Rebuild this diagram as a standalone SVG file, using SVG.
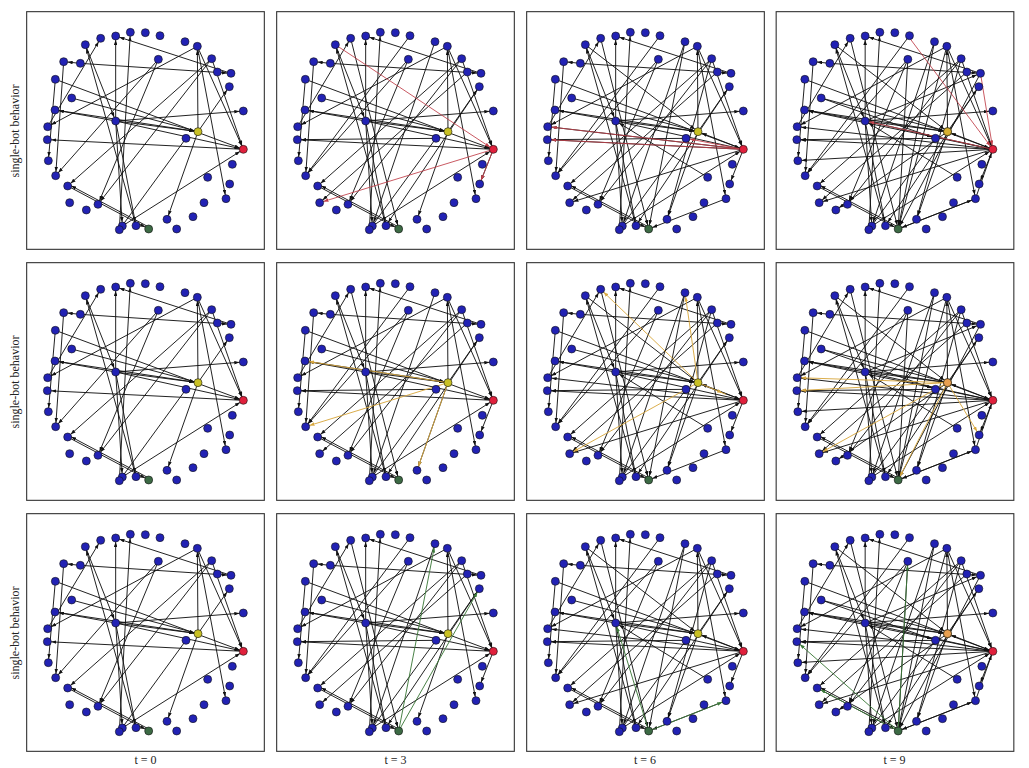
<svg xmlns="http://www.w3.org/2000/svg" xmlns:xlink="http://www.w3.org/1999/xlink" width="1029" height="768" viewBox="0 0 1029 768">
<style>
.box{fill:#fff;stroke:#333;stroke-width:3.3}
.ek line{stroke:#111;stroke-width:2.8;marker-end:url(#ak)}
.er line{stroke:#c0404a;stroke-width:2.6;marker-end:url(#ar)}
.eo line{stroke:#d8a840;stroke-width:2.8;marker-end:url(#ao)}
.eg line{stroke:#3d7a3a;stroke-width:2.8;marker-end:url(#ag)}
circle{stroke:#111;stroke-width:1.8}
.nb circle{fill:#2222b4}
.nr circle{fill:#e0203c}
.ny circle{fill:#c8c024}
.ng circle{fill:#3c6a44}
.lbl{font-family:"Liberation Serif","Times New Roman",serif;font-size:12px;fill:#222}
</style>
<defs>
<marker id="ak" markerUnits="userSpaceOnUse" viewBox="0 0 15 11" markerWidth="15" markerHeight="11" refX="27" refY="5.5" orient="auto"><path d="M0,0 L15,5.5 L0,11 z" fill="#111"/></marker>
<marker id="ar" markerUnits="userSpaceOnUse" viewBox="0 0 15 11" markerWidth="15" markerHeight="11" refX="27" refY="5.5" orient="auto"><path d="M0,0 L15,5.5 L0,11 z" fill="#c0404a"/></marker>
<marker id="ao" markerUnits="userSpaceOnUse" viewBox="0 0 15 11" markerWidth="15" markerHeight="11" refX="27" refY="5.5" orient="auto"><path d="M0,0 L15,5.5 L0,11 z" fill="#d8a840"/></marker>
<marker id="ag" markerUnits="userSpaceOnUse" viewBox="0 0 15 11" markerWidth="15" markerHeight="11" refX="27" refY="5.5" orient="auto"><path d="M0,0 L15,5.5 L0,11 z" fill="#3d7a3a"/></marker>

<g id="E0" class="ek">
<line x1="272" y1="333" x2="272" y2="78"/>
<line x1="272" y1="333" x2="292" y2="648"/>
<line x1="272" y1="333" x2="333" y2="647"/>
<line x1="272" y1="333" x2="519" y2="365"/>
<line x1="272" y1="333" x2="655" y2="418"/>
<line x1="272" y1="333" x2="655" y2="303"/>
<line x1="272" y1="333" x2="90" y2="300"/>
<line x1="283" y1="659" x2="316" y2="67"/>
<line x1="618" y1="190" x2="272" y2="78"/>
<line x1="68" y1="350" x2="227" y2="85"/>
<line x1="333" y1="647" x2="181" y2="104"/>
<line x1="166" y1="160" x2="116" y2="155"/>
<line x1="166" y1="160" x2="618" y2="190"/>
<line x1="116" y1="155" x2="92" y2="497"/>
<line x1="91" y1="208" x2="70" y2="452"/>
<line x1="91" y1="208" x2="655" y2="418"/>
<line x1="140" y1="264" x2="519" y2="365"/>
<line x1="655" y1="418" x2="67" y2="389"/>
<line x1="517" y1="109" x2="68" y2="350"/>
<line x1="560" y1="146" x2="219" y2="583"/>
<line x1="560" y1="146" x2="128" y2="528"/>
<line x1="400" y1="148" x2="92" y2="497"/>
<line x1="519" y1="365" x2="517" y2="109"/>
<line x1="517" y1="109" x2="603" y2="566"/>
<line x1="560" y1="146" x2="655" y2="418"/>
<line x1="517" y1="109" x2="655" y2="418"/>
<line x1="519" y1="365" x2="613" y2="230"/>
<line x1="519" y1="365" x2="426" y2="628"/>
<line x1="483" y1="385" x2="283" y2="659"/>
<line x1="292" y1="648" x2="655" y2="418"/>
<line x1="128" y1="528" x2="371" y2="657"/>
<line x1="371" y1="651" x2="128" y2="522"/>
<line x1="90" y1="300" x2="519" y2="365"/>
<line x1="400" y1="148" x2="219" y2="583"/>
<line x1="181" y1="104" x2="272" y2="333"/>
</g>
<g id="E3" class="ek">
<line x1="480" y1="95" x2="292" y2="648"/>
<line x1="655" y1="418" x2="614" y2="522"/>
<line x1="577" y1="186" x2="134" y2="578"/>
<line x1="483" y1="385" x2="67" y2="389"/>
<line x1="613" y1="230" x2="333" y2="647"/>
<line x1="227" y1="85" x2="371" y2="657"/>
<line x1="405" y1="77" x2="92" y2="497"/>
</g>
<g id="E6" class="ek">
<line x1="480" y1="95" x2="371" y2="657"/>
<line x1="655" y1="418" x2="68" y2="350"/>
<line x1="603" y1="566" x2="371" y2="657"/>
<line x1="655" y1="418" x2="134" y2="578"/>
<line x1="655" y1="418" x2="519" y2="365"/>
<line x1="560" y1="146" x2="426" y2="628"/>
<line x1="548" y1="502" x2="272" y2="333"/>
<line x1="181" y1="104" x2="519" y2="365"/>
</g>
<g id="E9" class="ek">
<line x1="517" y1="109" x2="371" y2="657"/>
<line x1="618" y1="190" x2="371" y2="657"/>
<line x1="400" y1="148" x2="371" y2="657"/>
<line x1="655" y1="418" x2="90" y2="300"/>
<line x1="655" y1="418" x2="70" y2="452"/>
<line x1="519" y1="365" x2="184" y2="600"/>
<line x1="603" y1="566" x2="655" y2="418"/>
<line x1="371" y1="657" x2="603" y2="566"/>
<line x1="272" y1="333" x2="618" y2="190"/>
<line x1="140" y1="264" x2="483" y2="385"/>
</g>

<g id="nodeset">
<g id="n1" class="nb"><circle cx="227" cy="85" r="12"/></g>
<g id="n2" class="nb"><circle cx="272" cy="78" r="12"/></g>
<g id="n3" class="nb"><circle cx="316" cy="67" r="12"/></g>
<g id="n4" class="nb"><circle cx="361" cy="68" r="12"/></g>
<g id="n5" class="nb"><circle cx="405" cy="77" r="12"/></g>
<g id="n6" class="nb"><circle cx="480" cy="95" r="12"/></g>
<g id="n7" class="nb"><circle cx="517" cy="109" r="12"/></g>
<g id="n8" class="nb"><circle cx="560" cy="146" r="12"/></g>
<g id="n9" class="nb"><circle cx="577" cy="186" r="12"/></g>
<g id="n10" class="nb"><circle cx="618" cy="190" r="12"/></g>
<g id="n11" class="nb"><circle cx="613" cy="230" r="12"/></g>
<g id="n12" class="nb"><circle cx="655" cy="303" r="12"/></g>
<g id="n13" class="nr"><circle cx="655" cy="418" r="12"/></g>
<g id="n14" class="nb"><circle cx="622" cy="463" r="12"/></g>
<g id="n15" class="nb"><circle cx="614" cy="522" r="12"/></g>
<g id="n16" class="nb"><circle cx="603" cy="566" r="12"/></g>
<g id="n17" class="nb"><circle cx="548" cy="502" r="12"/></g>
<g id="n18" class="nb"><circle cx="537" cy="578" r="12"/></g>
<g id="n19" class="nb"><circle cx="504" cy="620" r="12"/></g>
<g id="n20" class="nb"><circle cx="455" cy="657" r="12"/></g>
<g id="n21" class="nb"><circle cx="426" cy="628" r="12"/></g>
<g id="n22" class="ng"><circle cx="371" cy="657" r="12"/></g>
<g id="n23" class="nb"><circle cx="333" cy="647" r="12"/></g>
<g id="n24" class="nb"><circle cx="292" cy="648" r="12"/></g>
<g id="n25" class="nb"><circle cx="283" cy="659" r="12"/></g>
<g id="n26" class="nb"><circle cx="219" cy="583" r="12"/></g>
<g id="n27" class="nb"><circle cx="184" cy="600" r="12"/></g>
<g id="n28" class="nb"><circle cx="134" cy="578" r="12"/></g>
<g id="n29" class="nb"><circle cx="128" cy="528" r="12"/></g>
<g id="n30" class="nb"><circle cx="92" cy="497" r="12"/></g>
<g id="n31" class="nb"><circle cx="70" cy="452" r="12"/></g>
<g id="n32" class="nb"><circle cx="67" cy="389" r="12"/></g>
<g id="n33" class="nb"><circle cx="68" cy="350" r="12"/></g>
<g id="n34" class="nb"><circle cx="90" cy="300" r="12"/></g>
<g id="n35" class="nb"><circle cx="140" cy="264" r="12"/></g>
<g id="n36" class="nb"><circle cx="91" cy="208" r="12"/></g>
<g id="n37" class="nb"><circle cx="116" cy="155" r="12"/></g>
<g id="n38" class="nb"><circle cx="166" cy="160" r="12"/></g>
<g id="n39" class="nb"><circle cx="181" cy="104" r="12"/></g>
<g id="n40" class="nb"><circle cx="400" cy="148" r="12"/></g>
<g id="n41" class="nb"><circle cx="272" cy="333" r="12"/></g>
<g id="n43" class="nb"><circle cx="483" cy="385" r="12"/></g>
<g id="n42" class="ny"><circle cx="519" cy="365" r="12"/></g>
</g>
<rect id="frame" class="box" x="5" y="5" width="713" height="713"/>
</defs>

<!-- Row 1 -->
<g id="p-r1-t0" transform="translate(25,10) scale(0.33333)">
<use href="#frame"/><use href="#E0"/><use href="#nodeset"/>
</g>
<g id="p-r1-t3" transform="translate(275,10) scale(0.33333)">
<use href="#frame"/><use href="#E0"/><use href="#E3"/>
<g class="er"><line x1="181" y1="104" x2="655" y2="418"/><line x1="655" y1="418" x2="134" y2="578"/><line x1="655" y1="418" x2="614" y2="522"/></g>
<use href="#nodeset"/>
</g>
<g id="p-r1-t6" transform="translate(525,10) scale(0.33333)">
<use href="#frame"/><use href="#E0"/><use href="#E3"/><use href="#E6"/>
<g class="er"><line x1="655" y1="418" x2="68" y2="350"/><line x1="655" y1="418" x2="67" y2="389"/><line x1="655" y1="418" x2="483" y2="385"/></g>
<use href="#nodeset"/>
</g>
<g id="p-r1-t9" transform="translate(774.5,10) scale(0.33333)">
<use href="#frame"/><use href="#E0"/><use href="#E3"/><use href="#E6"/><use href="#E9"/>
<g class="er"><line x1="655" y1="418" x2="272" y2="333"/><line x1="400" y1="77" x2="655" y2="418"/><line x1="618" y1="190" x2="655" y2="418"/></g>
<use href="#nodeset"/>
<circle cx="519" cy="365" r="12" fill="#d8b030"/>
</g>

<!-- Row 2 -->
<g id="p-r2-t0" transform="translate(25,261) scale(0.33333)">
<use href="#frame"/><use href="#E0"/><use href="#nodeset"/>
</g>
<g id="p-r2-t3" transform="translate(275,261) scale(0.33333)">
<use href="#frame"/><use href="#E0"/><use href="#E3"/>
<g class="eo"><line x1="519" y1="365" x2="90" y2="300"/><line x1="519" y1="365" x2="426" y2="628"/><line x1="519" y1="365" x2="92" y2="497"/></g>
<use href="#nodeset"/>
</g>
<g id="p-r2-t6" transform="translate(525,261) scale(0.33333)">
<use href="#frame"/><use href="#E0"/><use href="#E3"/><use href="#E6"/>
<g class="eo"><line x1="519" y1="365" x2="480" y2="95"/><line x1="519" y1="365" x2="134" y2="578"/><line x1="519" y1="365" x2="227" y2="85"/><line x1="519" y1="365" x2="603" y2="400"/></g>
<use href="#nodeset"/>
</g>
<g id="p-r2-t9" transform="translate(774.5,261) scale(0.33333)">
<use href="#frame"/><use href="#E0"/><use href="#E3"/><use href="#E6"/><use href="#E9"/>
<g class="eo"><line x1="519" y1="365" x2="67" y2="389"/><line x1="519" y1="365" x2="68" y2="350"/><line x1="519" y1="365" x2="614" y2="522"/><line x1="519" y1="365" x2="371" y2="657"/><line x1="519" y1="365" x2="134" y2="578"/></g>
<use href="#nodeset"/>
<circle cx="519" cy="365" r="12" fill="#e8a050"/>
</g>

<!-- Row 3 -->
<g id="p-r3-t0" transform="translate(25,512) scale(0.33333)">
<use href="#frame"/><use href="#E0"/><use href="#nodeset"/>
</g>
<g id="p-r3-t3" transform="translate(275,512) scale(0.33333)">
<use href="#frame"/><use href="#E0"/><use href="#E3"/>
<g class="eg"><line x1="371" y1="657" x2="480" y2="95"/><line x1="371" y1="657" x2="613" y2="230"/></g>
<use href="#nodeset"/>
</g>
<g id="p-r3-t6" transform="translate(525,512) scale(0.33333)">
<use href="#frame"/><use href="#E0"/><use href="#E3"/><use href="#E6"/>
<g class="eg"><line x1="371" y1="657" x2="603" y2="566"/><line x1="371" y1="657" x2="272" y2="333"/></g>
<use href="#nodeset"/>
</g>
<g id="p-r3-t9" transform="translate(774.5,512) scale(0.33333)">
<use href="#frame"/><use href="#E0"/><use href="#E3"/><use href="#E6"/><use href="#E9"/>
<g class="eg"><line x1="371" y1="657" x2="67" y2="389"/><line x1="371" y1="657" x2="128" y2="528"/><line x1="371" y1="657" x2="400" y2="148"/></g>
<use href="#nodeset"/>
<circle cx="519" cy="365" r="12" fill="#e8a050"/>
</g>

<g id="labels">
<text class="lbl" transform="translate(19,131) rotate(-90)" text-anchor="middle">single-bot behavior</text>
<text class="lbl" transform="translate(19,382) rotate(-90)" text-anchor="middle">single-bot behavior</text>
<text class="lbl" transform="translate(19,633) rotate(-90)" text-anchor="middle">single-bot behavior</text>
<text class="lbl" x="145.5" y="764" text-anchor="middle">t = 0</text>
<text class="lbl" x="395.5" y="764" text-anchor="middle">t = 3</text>
<text class="lbl" x="645" y="764" text-anchor="middle">t = 6</text>
<text class="lbl" x="894.5" y="764" text-anchor="middle">t = 9</text>
</g>
</svg>
